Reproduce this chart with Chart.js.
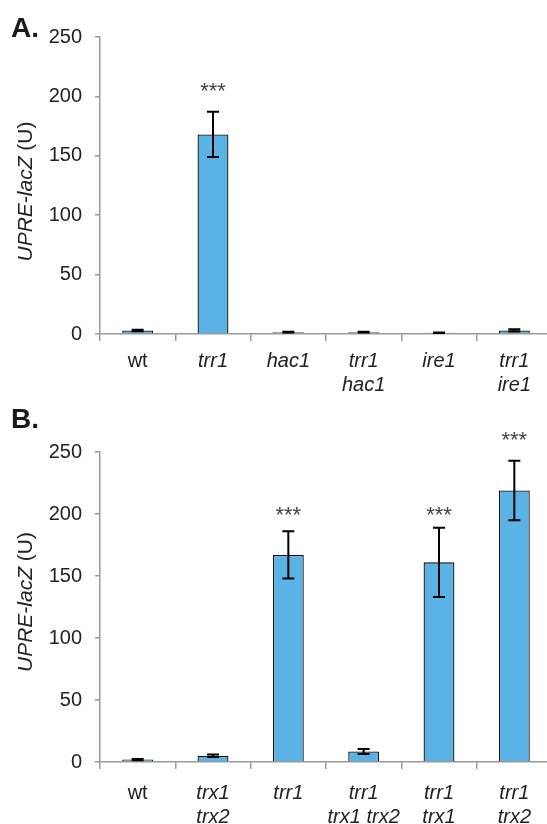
<!DOCTYPE html>
<html lang="en">
<head>
    <meta charset="UTF-8">
    <title>UPRE-lacZ</title>
    <script src="https://cdn.jsdelivr.net/npm/chart.js"></script>
    <style>
        body {
            margin: 0;
            padding: 0;
            background: #fff;
            width: 547px;
            height: 824px;
            overflow: hidden;
            position: relative;
        }
        .panel {
            position: absolute;
            left: 0;
        }
        #panelA { top: 0; }
        #panelB { top: 405px; }
    </style>
</head>
<body>
    <div class="panel" id="panelA"><canvas id="chartA" width="560" height="405"></canvas></div>
    <div class="panel" id="panelB"><canvas id="chartB" width="560" height="419"></canvas></div>

    <script>
        // Panel A data
        const labelsA = ['wt', 'trr1', 'hac1', ['trr1', 'hac1'], 'ire1', ['trr1', 'ire1']];
        const valuesA = [3, 168, 1.5, 1.5, 1, 3];
        const errorsA = [0.6, 19, 0.3, 0.3, 0.2, 0.9];
        const starsA = ['', '***', '', '', '', ''];
        const starLevelA = [null, 207, null, null, null, null];

        // Panel B data
        const labelsB = ['wt', ['trx1', 'trx2'], 'trr1', ['trr1', 'trx1 trx2'], ['trr1', 'trx1'], ['trr1', 'trx2']];
        const valuesB = [2, 5, 167, 8.5, 161, 219];
        const errorsB = [0.5, 1, 19, 2, 28, 24];
        const starsB = ['', '', '***', '', '***', '***'];
        const starLevelB = [null, null, 202, null, 202, 262];

        const yTicks = [0, 50, 100, 150, 200, 250];

        const FONT = "'Liberation Sans', Arial, sans-serif";
        const AXIS = '#9a9a9a';

        // error bars, stars, axis title and panel letter
        const extras = {
            id: 'extras',
            afterDatasetsDraw(chart, args, opts) {
                const ctx = chart.ctx;
                const meta = chart.getDatasetMeta(0);
                const y = chart.scales.y;
                ctx.save();
                ctx.strokeStyle = '#000';
                ctx.lineWidth = 2;
                opts.values.forEach((v, i) => {
                    const x = meta.data[i].x;
                    const top = y.getPixelForValue(v + opts.errors[i]);
                    const bot = y.getPixelForValue(v - opts.errors[i]);
                    ctx.beginPath();
                    ctx.moveTo(x, top); ctx.lineTo(x, bot);
                    ctx.moveTo(x - 6, top); ctx.lineTo(x + 6, top);
                    ctx.moveTo(x - 6, bot); ctx.lineTo(x + 6, bot);
                    ctx.stroke();
                    if (opts.stars[i]) {
                        ctx.fillStyle = '#444';
                        ctx.font = '22px ' + FONT;
                        ctx.textAlign = 'center';
                        ctx.textBaseline = 'middle';
                        ctx.fillText(opts.stars[i], x, y.getPixelForValue(opts.starLevels[i]) + 4);
                    }
                });

                // y axis title, partly italic
                const area = chart.chartArea;
                const cy = (area.top + area.bottom) / 2 + opts.titleShift;
                const italic = 'italic 21px ' + FONT;
                const normal = '21px ' + FONT;
                ctx.font = italic;
                const w1 = ctx.measureText('UPRE-lacZ').width;
                ctx.font = normal;
                const w2 = ctx.measureText(' (U)').width;
                ctx.translate(26, cy);
                ctx.rotate(-Math.PI / 2);
                ctx.fillStyle = '#222';
                ctx.textAlign = 'left';
                ctx.textBaseline = 'middle';
                ctx.font = italic;
                ctx.fillText('UPRE-lacZ', -(w1 + w2) / 2, 0);
                ctx.font = normal;
                ctx.fillText(' (U)', -(w1 + w2) / 2 + w1, 0);
                ctx.restore();

                ctx.save();
                ctx.fillStyle = '#1a1a1a';
                ctx.font = 'bold 28px ' + FONT;
                ctx.textAlign = 'left';
                ctx.textBaseline = 'alphabetic';
                ctx.fillText(opts.letter, 11, opts.letterY);
                ctx.restore();
            }
        };

        function makeChart(id, labels, values, errors, stars, starLevels, opt) {
            return new Chart(document.getElementById(id), {
                type: 'bar',
                data: {
                    labels: labels,
                    datasets: [{
                        data: values,
                        backgroundColor: '#5bb3e5',
                        borderColor: '#111',
                        borderWidth: 1.3,
                        barPercentage: 0.41,
                        categoryPercentage: 1
                    }]
                },
                options: {
                    responsive: false,
                    animation: false,
                    layout: { padding: { top: opt.top, right: 8, left: 0, bottom: 0 } },
                    plugins: {
                        legend: { display: false },
                        tooltip: { enabled: false },
                        extras: {
                            values: values, errors: errors, stars: stars, starLevels: starLevels,
                            letter: opt.letter, letterY: opt.letterY, titleShift: opt.titleShift
                        }
                    },
                    scales: {
                        x: {
                            afterFit(scale) { scale.height = opt.xHeight; },
                            grid: { offset: true, drawOnChartArea: false, color: AXIS, tickLength: 7, lineWidth: 1.5 },
                            border: { color: AXIS, width: 1.5 },
                            ticks: {
                                color: '#222',
                                padding: opt.xPad,
                                maxRotation: 0,
                                autoSkip: false,
                                font: (c) => ({ family: FONT, size: 20, lineHeight: 1.22, style: c.index === 0 ? 'normal' : 'italic' })
                            }
                        },
                        y: {
                            min: 0,
                            max: 250,
                            afterFit(scale) { scale.width = 100; },
                            afterBuildTicks(scale) { scale.ticks = yTicks.map(v => ({ value: v })); },
                            grid: { drawOnChartArea: false, color: AXIS, tickLength: 5, lineWidth: 1.5 },
                            border: { color: AXIS, width: 1.5 },
                            ticks: { color: '#222', padding: 13, font: { family: FONT, size: 20 } }
                        }
                    }
                },
                plugins: [extras]
            });
        }

        makeChart('chartA', labelsA, valuesA, errorsA, starsA, starLevelA,
            { top: 37, xHeight: 71, xPad: 8, letter: 'A.', letterY: 37, titleShift: 6 });
        makeChart('chartB', labelsB, valuesB, errorsB, starsB, starLevelB,
            { top: 47, xHeight: 62, xPad: 12, letter: 'B.', letterY: 23, titleShift: -5 });
    </script>
</body>
</html>
